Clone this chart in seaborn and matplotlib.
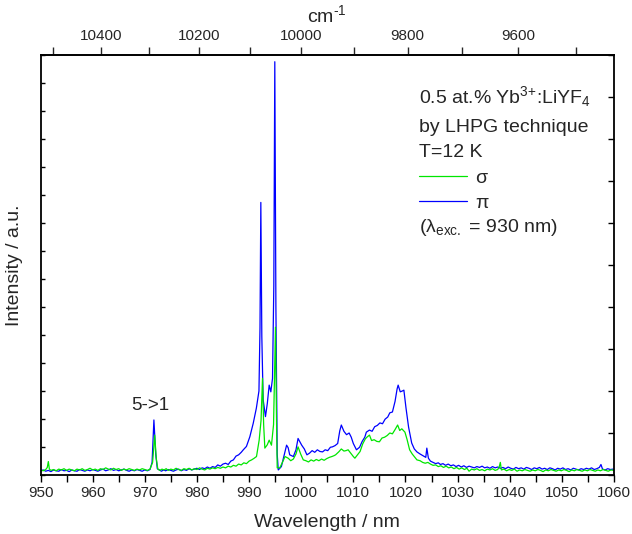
import numpy as np
import pandas as pd
import matplotlib
matplotlib.use("Agg")
import matplotlib.pyplot as plt
import seaborn as sns
from matplotlib.ticker import MultipleLocator, FixedLocator

# ---------------- data ----------------
wl_pi = [950.0, 950.5, 951.0, 951.5, 952.0, 952.5, 953.0, 953.5, 954.0, 954.5, 955.0, 955.5, 956.0, 956.5,
         957.0, 957.5, 958.0, 958.5, 959.0, 959.5, 960.0, 960.5, 961.0, 961.5, 962.0, 962.5, 963.0, 963.5,
         964.0, 964.5, 965.0, 965.5, 966.0, 966.5, 967.0, 967.5, 968.0, 968.5, 969.0, 969.5, 970.0, 970.5,
         971.0, 971.4, 971.75, 972.1, 972.4, 972.8, 973.2, 973.6, 974.0, 974.5, 975.0, 975.5, 976.0, 976.5,
         977.0, 977.5, 978.0, 978.5, 979.0, 979.5, 980.0, 980.5, 981.0, 981.5, 982.0, 982.5, 983.0, 983.5,
         984.0, 984.5, 985.0, 985.5, 986.0, 986.5, 987.0, 987.5, 988.0, 988.5, 988.9, 989.5, 990.15, 990.8,
         991.4, 991.9, 992.1, 992.26, 992.45, 992.7, 993.15, 993.5, 993.86, 994.18, 994.5, 994.75, 994.94,
         995.15, 995.4, 995.6, 996.2, 996.7, 997.2, 997.5, 997.8, 998.5, 999.0, 999.4, 1000.1, 1000.6,
         1001.1, 1001.6, 1002.1, 1002.6, 1003.1, 1003.6, 1004.1, 1004.6, 1005.1, 1005.6, 1006.0, 1006.5,
         1007.0, 1007.4, 1007.7, 1008.2, 1008.7, 1009.2, 1009.6, 1010.0, 1010.6, 1011.2, 1011.7, 1012.2,
         1012.5, 1013.1, 1013.6, 1014.1, 1014.6, 1015.1, 1015.6, 1016.1, 1016.6, 1017.0, 1017.5, 1018.0,
         1018.4, 1018.6, 1019.0, 1019.4, 1019.7, 1020.1, 1020.6, 1021.2, 1021.7, 1022.2, 1022.8, 1023.5,
         1023.9, 1024.1, 1024.4, 1024.8, 1025.3, 1025.8, 1026.3, 1026.7, 1027.2, 1027.7, 1028.2, 1028.7,
         1029.2, 1029.7, 1030.2, 1030.7, 1031.2, 1031.7, 1032.2, 1032.7, 1033.2, 1033.7, 1034.2, 1034.7,
         1035.2, 1035.7, 1036.2, 1036.7, 1037.2, 1037.7, 1038.2, 1038.7, 1039.2, 1039.7, 1040.2, 1040.7,
         1041.2, 1041.7, 1042.2, 1042.7, 1043.2, 1043.7, 1044.2, 1044.7, 1045.2, 1045.7, 1046.2, 1046.7,
         1047.2, 1047.7, 1048.2, 1048.7, 1049.2, 1049.7, 1050.2, 1050.7, 1051.2, 1051.7, 1052.2, 1052.7,
         1053.2, 1053.7, 1054.2, 1054.7, 1055.2, 1055.7, 1056.2, 1056.7, 1057.2, 1057.5, 1057.8, 1058.3,
         1058.8, 1059.3, 1059.8, 1060.0]
int_pi = [.010, .012, .009, .011, .008, .012, .010, .009, .013, .010, .011, .008, .012, .010,
          .009, .013, .011, .009, .012, .010, .013, .011, .009, .012, .014, .010, .012, .015,
          .011, .013, .010, .012, .014, .011, .009, .012, .010, .013, .011, .009, .012, .010,
          .013, .030, .131, .050, .015, .012, .009, .012, .010, .013, .011, .009, .012, .014,
          .010, .013, .011, .015, .012, .014, .016, .013, .017, .015, .019, .016, .020, .018,
          .024, .021, .026, .028, .025, .033, .036, .045, .048, .054, .060, .068, .091, .123,
          .159, .200, .350, .649, .330, .180, .139, .170, .214, .198, .230, .450, .984,
          .400, .050, .012, .020, .045, .071, .065, .048, .044, .060, .087, .071, .062,
          .048, .052, .058, .054, .060, .056, .055, .060, .058, .066, .067, .070,
          .075, .105, .119, .104, .096, .100, .090, .075, .060, .066, .080, .090,
          .102, .107, .104, .115, .118, .124, .122, .133, .138, .148, .150, .175,
          .205, .214, .198, .200, .202, .160, .114, .076, .062, .055, .050, .045,
          .042, .064, .040, .033, .030, .027, .029, .025, .027, .023, .026, .022,
          .024, .020, .023, .019, .022, .018, .021, .019, .017, .020, .018, .021,
          .017, .019, .016, .020, .017, .019, .016, .018, .015, .019, .016, .014,
          .018, .015, .017, .014, .018, .016, .013, .017, .015, .018, .014, .016,
          .013, .017, .015, .012, .016, .014, .017, .013, .015, .012, .016, .014,
          .012, .015, .013, .016, .014, .017, .013, .015, .018, .025, .014, .012,
          .015, .013, .014, .012]

wl_sigma = [950.0, 950.5, 951.0, 951.3, 951.5, 951.7, 952.0, 952.5, 953.0, 953.5, 954.0, 954.5, 955.0,
            955.5, 956.0, 956.5, 957.0, 957.5, 958.0, 958.5, 959.0, 959.5, 960.0, 960.5, 961.0, 961.5,
            962.0, 962.5, 963.0, 963.5, 964.0, 964.5, 965.0, 965.5, 966.0, 966.5, 967.0, 967.5, 968.0,
            968.5, 969.0, 969.5, 970.0, 970.5, 971.0, 971.5, 971.9, 972.2, 972.5, 972.9, 973.3, 973.7,
            974.1, 974.5, 975.0, 975.5, 976.0, 976.5, 977.0, 977.5, 978.0, 978.5, 979.0, 979.5, 980.0,
            980.5, 981.0, 981.5, 982.0, 982.5, 983.0, 983.5, 984.0, 984.5, 985.0, 985.5, 986.0, 986.5,
            987.0, 987.5, 988.0, 988.5, 989.0, 989.5, 990.0, 990.5, 991.0, 991.43, 991.94, 992.3, 992.58,
            992.8, 993.03, 993.5, 993.86, 994.3, 994.7, 994.9, 995.07, 995.25, 995.4, 995.9, 996.4,
            996.9, 997.5, 998.0, 998.5, 999.0, 999.4, 999.9, 1000.4, 1000.9, 1001.4, 1001.9, 1002.4,
            1002.9, 1003.4, 1003.9, 1004.4, 1004.9, 1005.4, 1005.9, 1006.3, 1006.6, 1007.2, 1007.7,
            1008.2, 1008.6, 1009.0, 1009.5, 1010.0, 1010.3, 1010.8, 1011.3, 1011.8, 1012.3, 1012.6,
            1013.1, 1013.5, 1014.0, 1014.5, 1015.0, 1015.5, 1016.0, 1016.5, 1017.0, 1017.5, 1018.0,
            1018.5, 1018.9, 1019.3, 1019.9, 1020.3, 1020.8, 1021.3, 1021.8, 1022.2, 1022.8, 1023.3,
            1023.8, 1024.3, 1024.8, 1025.3, 1025.8, 1026.3, 1026.8, 1027.3, 1027.8, 1028.3, 1028.8,
            1029.3, 1029.8, 1030.3, 1030.8, 1031.3, 1031.8, 1032.2, 1032.7, 1033.2, 1033.7, 1034.2,
            1034.7, 1035.2, 1035.7, 1036.2, 1036.7, 1037.2, 1037.7, 1038.0, 1038.2, 1038.4, 1038.9,
            1039.4, 1039.9, 1040.4, 1040.9, 1041.4, 1041.9, 1042.4, 1042.9, 1043.4, 1043.9, 1044.4,
            1044.9, 1045.4, 1045.9, 1046.4, 1046.9, 1047.4, 1047.9, 1048.4, 1048.9, 1049.4, 1049.9,
            1050.4, 1050.9, 1051.4, 1051.9, 1052.4, 1052.9, 1053.4, 1053.9, 1054.4, 1054.9, 1055.4,
            1055.9, 1056.4, 1056.9, 1057.4, 1057.9, 1058.4, 1058.9, 1059.4, 1060.0]
int_sigma = [.012, .010, .013, .018, .032, .014, .011, .013, .010, .014, .012, .015, .011,
             .014, .012, .010, .014, .012, .015, .011, .013, .016, .012, .014, .011, .015,
             .013, .017, .014, .012, .016, .013, .015, .011, .014, .012, .015, .013, .011,
             .014, .012, .015, .013, .011, .014, .030, .095, .040, .014, .011, .014, .012,
             .015, .011, .014, .012, .016, .013, .011, .015, .013, .016, .012, .015, .013,
             .017, .014, .012, .016, .014, .017, .015, .018, .016, .019, .017, .021, .019,
             .023, .021, .026, .024, .029, .027, .033, .036, .040, .044, .083, .130, .230,
             .120, .064, .072, .083, .071, .120, .250, .352, .150, .017, .017, .030,
             .044, .040, .034, .038, .050, .067, .050, .036, .034, .031, .036, .033,
             .037, .034, .038, .035, .039, .042, .044, .046, .048, .055, .062,
             .057, .058, .060, .052, .044, .040, .048, .056, .074, .086, .090,
             .095, .082, .084, .080, .079, .088, .090, .094, .100, .098, .108,
             .119, .106, .110, .102, .085, .060, .050, .042, .036, .034, .030,
             .028, .030, .026, .023, .024, .020, .022, .018, .021, .017, .019,
             .015, .018, .014, .017, .013, .016, .009, .014, .012, .015, .011,
             .013, .010, .014, .012, .015, .011, .013, .020, .030, .012, .014,
             .010, .013, .011, .014, .009, .012, .010, .013, .011, .009, .012,
             .010, .013, .011, .008, .012, .010, .013, .011, .009, .012, .010,
             .013, .011, .008, .012, .010, .013, .011, .009, .012, .010, .013,
             .011, .009, .012, .010, .013, .011, .009, .012, .011]

x_major = [950, 960, 970, 980, 990, 1000, 1010, 1020, 1030, 1040, 1050, 1060]
top_major = [10400, 10200, 10000, 9800, 9600]
top_minor = [10500, 10300, 10100, 9900, 9700, 9500]

# ---------------- style ----------------
sns.set_style("ticks")
plt.rcParams['font.family'] = ['Liberation Sans', 'DejaVu Sans']
plt.rcParams['mathtext.fontset'] = 'custom'
plt.rcParams['mathtext.rm'] = 'Liberation Sans'
plt.rcParams['mathtext.it'] = 'Liberation Sans:italic'
plt.rcParams['mathtext.bf'] = 'Liberation Sans:bold'
plt.rcParams['axes.linewidth'] = 1.3

BLUE = '#0000ff'
GREEN = '#00e600'

fig = plt.figure(figsize=(6.32, 5.34), dpi=100)
ax = fig.add_axes([0.0641, 0.1105, 0.9074, 0.7865])

df_pi = pd.DataFrame({'wl': wl_pi, 'I': int_pi})
df_sigma = pd.DataFrame({'wl': wl_sigma, 'I': int_sigma})
sns.lineplot(data=df_pi, x='wl', y='I', color=BLUE, lw=0.9, estimator=None, sort=False, ax=ax, label='π')
sns.lineplot(data=df_sigma, x='wl', y='I', color=GREEN, lw=0.9, estimator=None, sort=False, ax=ax, label='σ')

ax.set_xlim(950, 1060)
ax.set_ylim(0, 1.0)
ax.set_xticks(x_major)
ax.xaxis.set_minor_locator(MultipleLocator(5))
ax.tick_params(axis='x', which='both', direction='out', length=5, width=1, labelsize=11,
               top=False, color='black', pad=3)
ax.yaxis.set_major_locator(MultipleLocator(1 / 15))
ax.tick_params(axis='y', which='both', direction='in', length=3, width=1, labelleft=False,
               right=False, color='black')
for s in ax.spines.values():
    s.set_visible(True)
    s.set_color('black')
    s.set_linewidth(1.3)

ax.set_xlabel('Wavelength / nm', fontsize=14, labelpad=10)
ax.set_ylabel('Intensity / a.u.', fontsize=14)
ax.yaxis.set_label_coords(-0.03, 0.5)

# right spine ticks
ax_r = ax.twinx()
ax_r.set_ylim(ax.get_ylim())
ax_r.yaxis.set_major_locator(MultipleLocator(0.1))
ax_r.tick_params(axis='y', direction='in', length=4, width=1, labelright=False, color='black')
ax_r.grid(False)
for s in ax_r.spines.values():
    s.set_visible(False)


# top axis in wavenumbers
def nm2cm(x):
    x = np.asarray(x, dtype=float)
    with np.errstate(divide='ignore', invalid='ignore'):
        return 1e7 / x


secax = ax.secondary_xaxis('top', functions=(nm2cm, nm2cm))
secax.xaxis.set_major_locator(FixedLocator(top_major))
secax.xaxis.set_minor_locator(FixedLocator(top_minor))
secax.tick_params(which='both', direction='out', length=6, width=1, labelsize=11, pad=3)
secax.set_xlabel('cm$^{\u20101}$', fontsize=14, labelpad=4.5)

# annotations
tx = 0.66
ax.text(tx, 0.886, '0.5 at.% Yb$^{3{+}}$:LiYF$_{4}$', transform=ax.transAxes, fontsize=14, va='baseline')
ax.text(tx, 0.817, 'by LHPG technique', transform=ax.transAxes, fontsize=14, va='baseline')
ax.text(tx, 0.757, 'T=12 K', transform=ax.transAxes, fontsize=14, va='baseline')
ax.text(tx, 0.578, '(λ$_{\\mathrm{exc.}}$ = 930 nm)', transform=ax.transAxes, fontsize=14, va='baseline')
ax.text(971, 0.165, '5->1', fontsize=13.5, ha='center', va='center')

h_pi, h_sigma = ax.lines[0], ax.lines[1]
ax.legend(handles=[h_sigma, h_pi], labels=['σ', 'π'], loc='upper left',
          bbox_to_anchor=(tx, 0.728), frameon=False, fontsize=14, handlelength=2.45,
          handletextpad=0.45, labelspacing=0.4, borderpad=0, borderaxespad=0)

fig.savefig('out.png', dpi=100)
